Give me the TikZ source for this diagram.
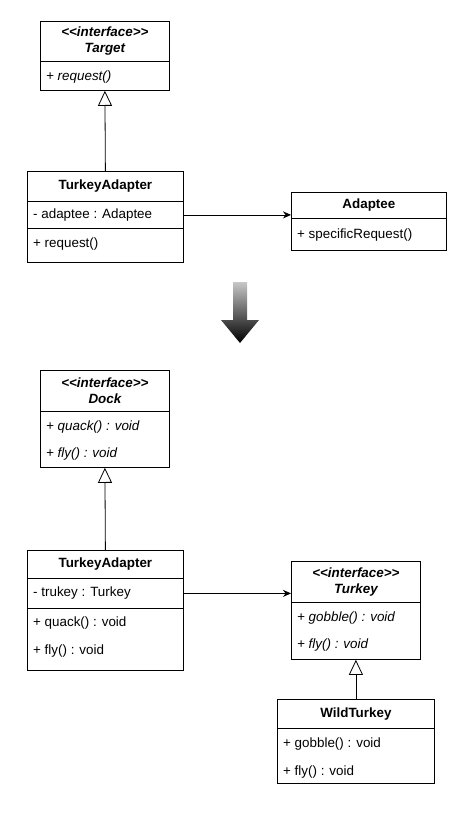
\documentclass[tikz,border=0pt]{standalone}
\usepackage{fontspec}
\setmainfont{Liberation Sans}
\usetikzlibrary{arrows.meta, positioning, calc}

\begin{document}
\begin{tikzpicture}[x=1pt, y=-1pt,
    box/.style={draw, line width=0.8pt, anchor=north west, inner sep=0pt},
    head/.style={box, align=center, font=\fontsize{13.4}{16}\selectfont\bfseries},
    row/.style={anchor=west, inner sep=0pt, font=\fontsize{13.4}{15}\selectfont},
    inherit/.style={-{Triangle[open, width=14pt, length=15pt]}, line width=0.8pt},
    assoc/.style={-{Stealth[width=7pt, length=8pt]}, line width=0.8pt}]
    \useasboundingbox (0,0) rectangle (472,822);

    % Before: Target / TurkeyAdapter / Adaptee
    \node[head, minimum width=129pt, minimum height=40pt] (target) at (40,21) {\itshape <\kern0pt<interface>\kern0pt>\\\itshape Target};
    \node[box, minimum width=129pt, minimum height=29pt] (targetops) at (40,61) {};
    \node[row] (targetreq) at (46,77) {\itshape + request()};

    \node[head, minimum width=156pt, minimum height=30pt] (ta1) at (27,171) {TurkeyAdapter};
    \node[box, minimum width=156pt, minimum height=27pt] (ta1attr) at (27,201) {};
    \node[row] (ta1adaptee) at (33,215) {- adaptee : Adaptee};
    \node[box, minimum width=156pt, minimum height=34pt] (ta1ops) at (27,228) {};
    \node[row] (ta1req) at (33,244) {+ request()};

    \node[head, minimum width=155pt, minimum height=26pt] (adaptee) at (291,192) {Adaptee};
    \node[box, minimum width=155pt, minimum height=32pt] (adapteeops) at (291,218) {};
    \node[row] (adapteereq) at (297,235) {+ specificRequest()};

    \draw[inherit] (ta1.north) -- (targetops.south);
    \draw[assoc] (ta1attr.east) -- (ta1attr.east -| adaptee.west);

    % Shaded arrow between the two versions
    \shade[top color=black!22, bottom color=black]
        (233,282) -- (247,282) -- (247,320) -- (259,320) -- (240,343)
        -- (221,320) -- (233,320) -- cycle;

    % After: Dock / TurkeyAdapter / Turkey / WildTurkey
    \node[head, minimum width=129pt, minimum height=41pt] (dock) at (40,370) {\itshape <\kern0pt<interface>\kern0pt>\\\itshape Dock};
    \node[box, minimum width=129pt, minimum height=56pt] (dockops) at (40,411) {};
    \node[row] (dockquack) at (46,427) {\itshape + quack() : void};
    \node[row] (dockfly) at (46,454) {\itshape + fly() : void};

    \node[head, minimum width=156pt, minimum height=28pt] (ta2) at (27,550) {TurkeyAdapter};
    \node[box, minimum width=156pt, minimum height=30pt] (ta2attr) at (27,578) {};
    \node[row] (ta2turkey) at (33,593) {- trukey : Turkey};
    \node[box, minimum width=156pt, minimum height=62pt] (ta2ops) at (27,608) {};
    \node[row] (ta2quack) at (33,623) {+ quack() : void};
    \node[row] (ta2fly) at (33,651) {+ fly() : void};

    \node[head, minimum width=129pt, minimum height=41pt] (turkey) at (291,561) {\itshape <\kern0pt<interface>\kern0pt>\\\itshape Turkey};
    \node[box, minimum width=129pt, minimum height=57pt] (turkeyops) at (291,602) {};
    \node[row] (turkeygobble) at (297,618) {\itshape + gobble() : void};
    \node[row] (turkeyfly) at (297,645) {\itshape + fly() : void};

    \node[head, minimum width=157pt, minimum height=29pt] (wild) at (277,699) {WildTurkey};
    \node[box, minimum width=157pt, minimum height=55pt] (wildops) at (277,728) {};
    \node[row] (wildgobble) at (283,744) {+ gobble() : void};
    \node[row] (wildfly) at (283,772) {+ fly() : void};

    \draw[inherit] (ta2.north) -- (dockops.south);
    \draw[assoc] (ta2attr.east) -- (ta2attr.east -| turkey.west);
    \draw[inherit] (wild.north) -- (turkeyops.south);
\end{tikzpicture}
\end{document}
